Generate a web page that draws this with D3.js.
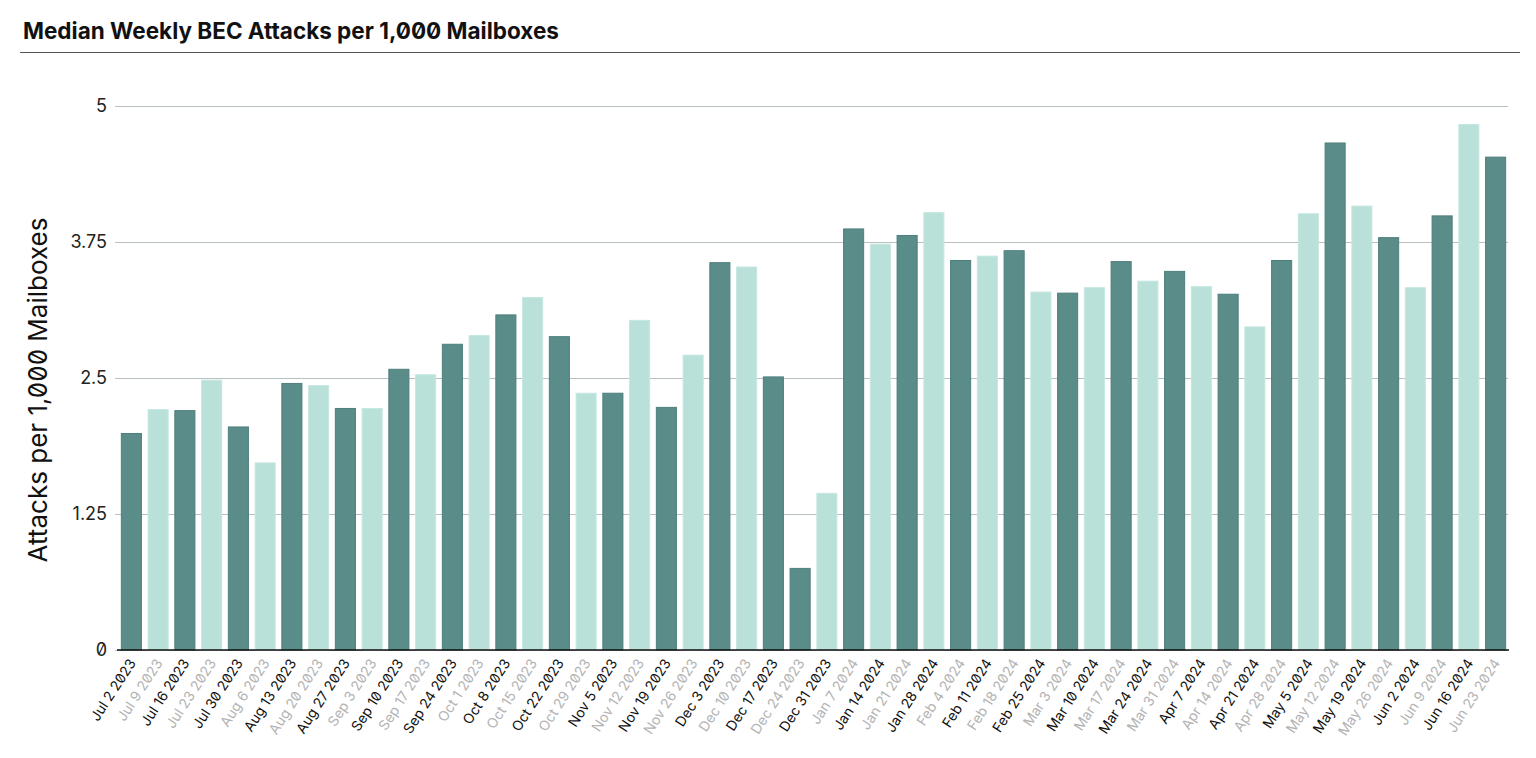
<!DOCTYPE html>
<html>
<head>
<meta charset="utf-8">
<script src="https://cdn.jsdelivr.net/npm/d3@7"></script>
<style>
  html, body { margin: 0; padding: 0; background: #fff; }
  svg text { font-family: Inter, "Noto Sans", sans-serif; font-feature-settings: "zero" 1; }
</style>
</head>
<body>
<svg id="chart" width="1536" height="758"></svg>
<script>
const weeks = [
  "Jul 2 2023","Jul 9 2023","Jul 16 2023","Jul 23 2023","Jul 30 2023",
  "Aug 6 2023","Aug 13 2023","Aug 20 2023","Aug 27 2023",
  "Sep 3 2023","Sep 10 2023","Sep 17 2023","Sep 24 2023",
  "Oct 1 2023","Oct 8 2023","Oct 15 2023","Oct 22 2023","Oct 29 2023",
  "Nov 5 2023","Nov 12 2023","Nov 19 2023","Nov 26 2023",
  "Dec 3 2023","Dec 10 2023","Dec 17 2023","Dec 24 2023","Dec 31 2023",
  "Jan 7 2024","Jan 14 2024","Jan 21 2024","Jan 28 2024",
  "Feb 4 2024","Feb 11 2024","Feb 18 2024","Feb 25 2024",
  "Mar 3 2024","Mar 10 2024","Mar 17 2024","Mar 24 2024","Mar 31 2024",
  "Apr 7 2024","Apr 14 2024","Apr 21 2024","Apr 28 2024",
  "May 5 2024","May 12 2024","May 19 2024","May 26 2024",
  "Jun 2 2024","Jun 9 2024","Jun 16 2024","Jun 23 2024"
];
const attacks = [
  1.99, 2.21, 2.20, 2.48, 2.05,
  1.72, 2.45, 2.43, 2.22,
  2.22, 2.58, 2.53, 2.81,
  2.89, 3.08, 3.24, 2.88, 2.36,
  2.36, 3.03, 2.23, 2.71,
  3.56, 3.52, 2.51, 0.75, 1.44,
  3.87, 3.73, 3.81, 4.02,
  3.58, 3.62, 3.67, 3.29,
  3.28, 3.33, 3.57, 3.39, 3.48,
  3.34, 3.27, 2.97, 3.58,
  4.01, 4.66, 4.08, 3.79,
  3.33, 3.99, 4.83, 4.53
];
// bar shade per week: "d" = dark, "l" = light
const shades = [
  "d","l","d","l","d",
  "l","d","l","d",
  "l","d","l","d",
  "l","d","l","d","l",
  "d","l","d","l",
  "d","l","d","d","l",
  "d","l","d","l",
  "d","l","d","l",
  "d","l","d","l","d",
  "l","d","l","d",
  "l","d","l","d",
  "l","d","l","d"
];
const yTicks = [0, 1.25, 2.5, 3.75, 5];
const yTickLabels = ["0", "1.25", "2.5", "3.75", "5"];
const title = "Median Weekly BEC Attacks per 1,000 Mailboxes";
const yTitle = "Attacks per 1,000 Mailboxes";

const fill = { d: "#5a8c89", l: "#b9e1d9" };
const stroke = { d: "#4e7f7c", l: "#c6e7e0" };

const svg = d3.select("#chart");

// Title and rule
svg.append("text")
  .attr("x", 23).attr("y", 39)
  .attr("font-size", 22.5).attr("font-weight", 700)
  .attr("fill", "#111")
  .text(title);
svg.append("line")
  .attr("x1", 20).attr("x2", 1520).attr("y1", 52.5).attr("y2", 52.5)
  .attr("stroke", "#555").attr("stroke-width", 1);

const x = d3.scaleBand().domain(weeks).range([118, 1509]).paddingInner(0.25).paddingOuter(0.125);
const y = d3.scaleLinear().domain([0, 5]).range([650, 106]);

// Gridlines
const yAxis = d3.axisLeft(y).tickValues(yTicks)
  .tickFormat((d, i) => yTickLabels[i])
  .tickSize(-(1508 - 115)).tickPadding(8);
const gy = svg.append("g").attr("transform", "translate(115,0)").call(yAxis);
gy.select(".domain").remove();
gy.selectAll(".tick line").attr("stroke", "#b8c1c1").attr("stroke-width", 1);
gy.selectAll(".tick text").attr("font-size", 18).attr("fill", "#222").attr("font-family", "Inter, sans-serif");

// Bars
svg.append("g").selectAll("rect").data(weeks).join("rect")
  .attr("x", d => x(d))
  .attr("width", x.bandwidth())
  .attr("y", (d, i) => y(attacks[i]))
  .attr("height", (d, i) => y(0) - y(attacks[i]))
  .attr("fill", (d, i) => fill[shades[i]])
  .attr("stroke", (d, i) => stroke[shades[i]])
  .attr("stroke-width", 1);

// X axis
const xAxis = d3.axisBottom(x).tickSize(0).tickPadding(0);
const gx = svg.append("g").attr("transform", "translate(0,650)").call(xAxis);
gx.select(".domain").attr("stroke", "#111").attr("stroke-width", 1.5)
  .attr("d", "M117,0H1509");
gx.selectAll(".tick text")
  .attr("font-size", 14)
  .attr("font-family", "Inter, sans-serif")
  .attr("text-anchor", "end")
  .attr("dy", 0)
  .attr("transform", "translate(5,13) rotate(-57)")
  .attr("fill", (d, i) => i % 2 === 0 ? "#111" : "#b3b3b3");

// Y title
svg.append("text")
  .attr("transform", "translate(47,390) rotate(-90)")
  .attr("text-anchor", "middle")
  .attr("font-size", 26)
  .attr("fill", "#111")
  .text(yTitle);
</script>
</body>
</html>
